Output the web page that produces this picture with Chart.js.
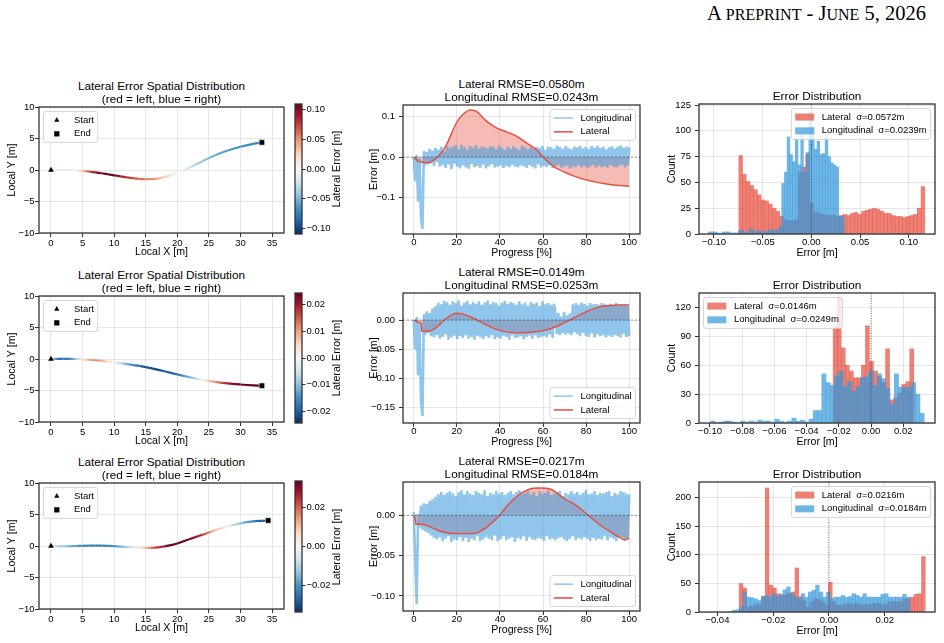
<!DOCTYPE html>
<html>
<head>
<meta charset="utf-8">
<script src="https://cdn.jsdelivr.net/npm/chart.js@4.4.0/dist/chart.umd.min.js"></script>
<style>
  body { margin: 0; background: #fff; width: 944px; height: 643px; overflow: hidden; position: relative;
         font-family: "Liberation Sans", Arial, Helvetica, sans-serif; color: #000; }
  canvas { position: absolute; }
  .t { position: absolute; white-space: nowrap; transform: translate(-50%, -50%); line-height: 1; }
  .hdr { position: absolute; right: 18px; top: 1px; font-family: "Liberation Serif", "Times New Roman", serif;
         font-size: 20.5px; white-space: nowrap; line-height: 24px; }
  .hdr .sc { font-size: 16px; }
</style>
</head>
<body>
<div class="hdr">A <span class="sc">PREPRINT</span> - J<span class="sc">UNE</span> 5, 2026</div>
<script>
// ---------- trajectory (local frame) with lateral error along the path ----------
const trajX1 = [0, 1, 2, 3, 4, 5, 6, 7, 8, 9, 10, 11, 12, 13, 14, 15, 16, 17, 18, 19, 20, 21, 22, 24, 26, 28, 30, 32, 33.4];
const trajY1 = [0, 0, 0, -0.02, -0.06, -0.14, -0.25, -0.38, -0.52, -0.68, -0.84, -1.0, -1.16, -1.3, -1.41, -1.47, -1.45, -1.34, -1.12, -0.82, -0.45, -0.05, 0.4, 1.4, 2.35, 3.1, 3.7, 4.15, 4.38];
const trajE1 = [0, -0.012, -0.014, -0.012, 0.005, 0.03, 0.065, 0.095, 0.11, 0.117, 0.11, 0.093, 0.08, 0.07, 0.064, 0.058, 0.051, 0.04, 0.028, 0.016, 0.0, -0.014, -0.025, -0.043, -0.054, -0.062, -0.067, -0.071, -0.072];

const trajX2 = [0, 1, 2, 3, 4, 5, 6, 7, 8, 9, 10, 11, 12, 13, 14, 16, 18, 20, 22, 24, 26, 28, 30, 32, 33.4];
const trajY2 = [0, 0.03, 0.04, 0.03, 0.0, -0.05, -0.12, -0.2, -0.3, -0.41, -0.53, -0.66, -0.8, -0.95, -1.1, -1.5, -1.95, -2.45, -2.9, -3.3, -3.62, -3.88, -4.05, -4.18, -4.24];
const trajE2 = [0, -0.018, -0.0195, -0.016, -0.008, 0.003, 0.009, 0.0115, 0.009, 0.004, -0.001, -0.007, -0.012, -0.016, -0.019, -0.0218, -0.021, -0.018, -0.011, 0.0, 0.011, 0.02, 0.025, 0.026, 0.026];

const trajX3 = [0, 1, 2, 3, 4, 5, 6, 7, 8, 9, 10, 11, 12, 13, 14, 15, 16, 17, 18, 19, 20, 22, 24, 26, 28, 30, 32, 33.5, 34.4];
const trajY3 = [0, -0.04, -0.05, -0.03, 0.0, 0.03, 0.05, 0.06, 0.05, 0.02, -0.03, -0.09, -0.16, -0.23, -0.29, -0.32, -0.3, -0.22, -0.05, 0.15, 0.4, 1.1, 1.8, 2.5, 3.1, 3.6, 3.9, 4.0, 4.05];
const trajE3 = [0, -0.011, -0.0124, -0.0155, -0.019, -0.0215, -0.0225, -0.0227, -0.0227, -0.0225, -0.02, -0.016, -0.011, -0.005, 0.003, 0.011, 0.019, 0.026, 0.031, 0.0335, 0.0339, 0.033, 0.024, 0.01, -0.002, -0.014, -0.023, -0.029, -0.0285];

const cbMax = [0.1096, 0.0242, 0.0339];
const cbStep = [0.05, 0.01, 0.02];

// ---------- error vs progress ----------
const lonErr1 = [0.000,-0.060,0.005,-0.110,-0.005,-0.150,-0.178,0.015,-0.020,0.012,
  -0.018,0.020,-0.015,0.016,-0.022,0.022,-0.012,0.018,-0.024,0.025,
  -0.020,0.014,-0.027,0.028,-0.018,0.022,-0.030,0.026,-0.016,0.029,
  -0.024,0.019,-0.028,0.030,-0.021,0.024,-0.026,0.018,-0.029,0.027,
  -0.017,0.023,-0.025,0.029,-0.022,0.020,-0.027,0.026,-0.019,0.024,
  -0.028,0.021,-0.023,0.027,-0.018,0.025,-0.026,0.019,-0.024,0.028,
  -0.021,0.023,-0.027,0.017,-0.022,0.026,-0.025,0.020,-0.019,0.027,
  -0.024,0.022,-0.026,0.018,-0.021,0.028,-0.023,0.024,-0.027,0.019,
  -0.020,0.026,-0.024,0.021,-0.028,0.025,-0.018,0.023,-0.026,0.027,
  -0.022,0.018,-0.025,0.026,-0.020,0.024,-0.027,0.021,-0.023,0.028,
  -0.019,0.025,-0.026,0.020,-0.024,0.027,-0.021,0.022,-0.028,0.019,
  -0.023,0.026,-0.025,0.024,-0.020,0.028,-0.026,0.021,-0.022,0.025,
  -0.027,0.020,-0.024,0.027,-0.019,0.023,-0.026,0.028,-0.021,0.022,
  -0.025,0.026,-0.023,0.019,-0.027,0.024,-0.020,0.027,-0.024,0.021,
  -0.026,0.025,-0.022,0.028,-0.019,0.023,-0.025,0.026,-0.021,0.024];
const lonErr2 = [0.000,-0.050,0.005,-0.095,-0.004,-0.140,-0.165,0.010,-0.025,0.015,
  -0.022,0.012,-0.028,0.020,-0.030,0.024,-0.026,0.030,-0.032,0.027,
  -0.029,0.033,-0.025,0.031,-0.034,0.026,-0.030,0.032,-0.027,0.029,
  -0.033,0.034,-0.028,0.025,-0.031,0.030,-0.026,0.033,-0.032,0.027,
  -0.029,0.031,-0.034,0.028,-0.027,0.032,-0.030,0.026,-0.033,0.030,
  -0.028,0.034,-0.031,0.027,-0.026,0.031,-0.033,0.029,-0.030,0.025,
  -0.032,0.030,-0.027,0.033,-0.029,0.028,-0.034,0.031,-0.026,0.029,
  -0.031,0.026,-0.030,0.032,-0.028,0.027,-0.033,0.030,-0.029,0.025,
  -0.027,0.031,-0.032,0.028,-0.026,0.030,-0.031,0.024,-0.029,0.032,
  -0.028,0.027,-0.030,0.029,-0.025,0.026,-0.031,0.028,0.010,-0.024,
  0.012,-0.026,0.006,-0.022,0.014,-0.025,0.008,-0.023,0.011,-0.026,
  0.027,-0.021,0.029,-0.024,0.026,-0.028,0.030,-0.022,0.028,-0.027,
  0.025,-0.029,0.029,-0.023,0.027,-0.030,0.028,-0.025,0.026,-0.028,
  0.029,-0.026,0.027,-0.030,0.025,-0.027,0.028,-0.029,0.024,-0.026,
  0.029,-0.028,0.026,-0.030,0.027,-0.024,0.028,-0.029,0.025,-0.028];
const lonErr3 = [0.004,-0.055,-0.110,0.002,-0.015,0.012,-0.018,0.015,-0.020,0.014,
  -0.022,0.018,-0.025,0.020,-0.028,0.023,-0.030,0.026,-0.027,0.029,
  -0.032,0.025,-0.029,0.028,-0.026,0.030,-0.033,0.027,-0.030,0.024,
  -0.031,0.029,-0.027,0.031,-0.032,0.026,-0.028,0.030,-0.033,0.027,
  -0.029,0.025,-0.031,0.030,-0.026,0.028,-0.032,0.026,-0.030,0.031,
  -0.027,0.024,-0.029,0.028,-0.031,0.026,-0.025,0.030,-0.032,0.027,
  -0.030,0.029,-0.026,0.025,-0.031,0.028,-0.029,0.030,-0.027,0.026,
  -0.033,0.029,-0.028,0.031,-0.030,0.027,-0.026,0.028,-0.032,0.030,
  -0.027,0.026,-0.030,0.029,-0.031,0.024,-0.028,0.030,-0.029,0.027,
  -0.032,0.028,-0.026,0.031,-0.030,0.025,-0.029,0.027,-0.031,0.029,
  -0.028,0.030,-0.027,0.024,-0.030,0.028,-0.032,0.026,-0.029,0.030,
  -0.026,0.027,-0.031,0.029,-0.028,0.025,-0.030,0.028,-0.027,0.031,
  -0.029,0.026,-0.032,0.027,-0.028,0.030,-0.031,0.025,-0.029,0.028,
  -0.030,0.027,-0.026,0.029,-0.031,0.030,-0.027,0.024,-0.029,0.028,
  -0.032,0.026,-0.028,0.030,-0.027,0.029,-0.031,0.027,-0.029,0.026];

const latProg1 = [0, 0.5, 1.5, 2, 3, 5, 7, 8.5, 10.5, 13, 15.2, 17.5, 19.8, 22.9, 26.3, 29.1, 33.7, 38.4, 43, 47.7, 52.3, 57, 60, 64.7, 70.9, 77.1, 83.3, 89.5, 95.7, 100];
const latErr1 = [0, -0.004, -0.008, -0.012, -0.012, -0.014, -0.014, -0.01, -0.0025, 0.012, 0.031, 0.058, 0.085, 0.106, 0.117, 0.113, 0.089, 0.0725, 0.0625, 0.052, 0.035, 0.018, 0.0, -0.023, -0.04, -0.0525, -0.061, -0.067, -0.071, -0.0725];
const latProg2 = [0, 1, 2, 3.5, 3.7, 7.4, 10.5, 15.2, 19.8, 22.1, 27.6, 32.2, 38.4, 44.6, 49.2, 55.4, 61.6, 67.8, 74, 80.2, 86.4, 92.6, 97.2, 100];
const latErr2 = [0, -0.002, -0.004, -0.006, -0.0195, -0.019, -0.0126, 0.003, 0.0115, 0.011, 0.003, -0.0057, -0.016, -0.0213, -0.0218, -0.0207, -0.017, -0.0086, 0.003, 0.0144, 0.023, 0.0253, 0.026, 0.026];
const latProg3 = [0, 0.5, 1, 2.8, 5.9, 9, 12, 16.7, 21.4, 27.6, 30.7, 33.7, 36.8, 39.9, 43, 46.1, 49.2, 52.3, 55.4, 58.5, 61.6, 64.7, 67.8, 70.9, 74, 77.1, 81.7, 86.4, 91, 95.7, 98, 100];
const latErr3 = [0, -0.002, -0.011, -0.011, -0.0124, -0.016, -0.0194, -0.0223, -0.0227, -0.0227, -0.02, -0.0153, -0.0079, 0.0, 0.0107, 0.019, 0.0264, 0.031, 0.0335, 0.0339, 0.0335, 0.031, 0.025, 0.019, 0.0149, 0.0087, -0.0017, -0.012, -0.02, -0.0277, -0.0306, -0.0285];

const latRmse = ['0.0580', '0.0149', '0.0217'];
const lonRmse = ['0.0243', '0.0253', '0.0184'];

// ---------- histograms (bin start, bin width, counts) ----------
const latBinStart = [-0.0745, -0.0235, -0.0322];
const latBinWidth = [0.00382, 0.0025, 0.001334];
const lonBinStart = [-0.1058, -0.0995, -0.0360];
const lonBinWidth = [0.00279, 0.00265, 0.0013];
const latCounts1 = [76,58,51,47,43,38,33,32,29,25,22,17,14,13,13,14,60,65,77,30,22,20,19,18,18,18,17,18,19,18,20,21,19,22,23,24,25,24,22,20,20,18,17,17,16,17,18,19,25,46];
const lonCounts1 = [2,2,2,1,0,2,2,2,1,1,1,3,4,1,2,5,4,2,3,2,3,2,4,4,3,4,7,49,60,94,77,70,92,67,96,60,79,118,104,82,90,77,78,96,75,69,67,65,17,17];
const latCounts2 = [100,130,78,60,54,47,47,60,101,64,54,48,42,77,24,26,31,40,43,77];
const lonCounts2 = [2,0,1,2,2,1,0,2,1,2,1,3,2,2,1,4,2,1,2,5,2,3,1,4,13,13,51,42,39,49,54,38,43,33,38,47,48,54,39,51,46,36,20,51,37,37,37,42,30,10];
const latCounts3 = [50,42,9,10,13,13,27,217,47,42,32,29,30,33,35,77,27,20,9,18,23,22,18,13,52,18,12,12,13,15,13,15,13,13,13,13,15,15,13,13,18,18,18,18,23,23,26,31,32,97];
const lonCounts3 = [1,3,4,9,35,26,25,23,20,27,29,26,32,27,31,39,44,32,27,23,32,26,35,38,47,35,26,35,23,26,26,29,26,27,32,29,26,32,26,26,26,26,31,32,26,26,26,26,31,26];
const latSigma = ['0.0572', '0.0146', '0.0216'];
const lonSigma = ['0.0239', '0.0249', '0.0184'];

// ---------- axis ranges / ticks ----------
const tsYRange = [[-0.191, 0.129], [-0.177, 0.0464], [-0.1186, 0.0413]];
const tsYStep = [0.1, 0.05, 0.05];
const tsYDec = [1, 2, 2];
const histXRange = [[-0.1154, 0.127], [-0.1068, 0.0397], [-0.0466, 0.038]];
const histXStep = [0.05, 0.02, 0.02];
const histYMax = [126, 135, 227.5];
const histYStep = [25, 30, 50];

// ---------- layout (plot rectangles in page pixels) ----------
const layout = [
  { traj: {l: 39, t: 107, r: 284, b: 233}, cb: {l: 295, t: 104, r: 302, b: 234}, ts: {l: 403, t: 105, r: 640, b: 234}, hist: {l: 699, t: 104, r: 935, b: 234} },
  { traj: {l: 39, t: 296, r: 284, b: 422}, cb: {l: 295, t: 293, r: 302, b: 423}, ts: {l: 403, t: 293, r: 640, b: 423}, hist: {l: 699, t: 293, r: 935, b: 423} },
  { traj: {l: 39, t: 483, r: 284, b: 609}, cb: {l: 295, t: 481, r: 302, b: 612}, ts: {l: 403, t: 482, r: 640, b: 611}, hist: {l: 699, t: 482, r: 935, b: 612} }
];

const FONT = '"Liberation Sans", Arial, Helvetica, sans-serif';
Chart.defaults.font.family = FONT;
Chart.defaults.color = '#000';
Chart.defaults.animation = false;
Chart.defaults.plugins.legend.display = false;
Chart.defaults.plugins.tooltip.enabled = false;

const BLUE_LINE = 'rgba(52,152,219,0.55)';
const RED = '#e74c3c';
const RED_HIST = 'rgba(231,76,60,0.7)';
const BLUE_HIST = 'rgba(52,152,219,0.7)';

// RdBu_r colormap
const rdbuR = ['#053061','#2166ac','#4393c3','#92c5de','#d1e5f0','#f7f7f7','#fddbc7','#f4a582','#d6604d','#b2182b','#67001f'];
const rdbuRgb = rdbuR.map(h => [1, 3, 5].map(i => parseInt(h.slice(i, i + 2), 16)));
function cmap(v, vmax) {
  let t = (v + vmax) / (2 * vmax);
  t = Math.max(0, Math.min(1, t));
  const f = t * 10, i = Math.min(9, Math.floor(f)), u = f - i;
  const a = rdbuRgb[i], b = rdbuRgb[i + 1];
  return 'rgb(' + a.map((x, k) => Math.round(x + (b[k] - x) * u)).join(',') + ')';
}

function fmt(v, d) {
  if (Math.abs(v) < 1e-12) return (0).toFixed(d);
  return (v < 0 ? '\u2212' : '') + Math.abs(v).toFixed(d);
}

function makeCanvas(r, m) {
  const c = document.createElement('canvas');
  const w = r.r - r.l + m.l + m.r, h = r.b - r.t + m.t + m.b;
  c.width = w; c.height = h;
  c.style.left = (r.l - m.l) + 'px';
  c.style.top = (r.t - m.t) + 'px';
  c.style.width = w + 'px';
  c.style.height = h + 'px';
  document.body.appendChild(c);
  return c;
}

function text(x, y, s, size, rot) {
  const d = document.createElement('div');
  d.className = 't';
  d.textContent = s;
  d.style.left = x + 'px';
  d.style.top = y + 'px';
  d.style.fontSize = size + 'px';
  if (rot) d.style.transform = 'translate(-50%,-50%) rotate(' + rot + 'deg)';
  document.body.appendChild(d);
}

function axis(o) {
  return {
    type: 'linear', position: o.pos, min: o.min, max: o.max, display: o.display !== false,
    offset: false,
    grid: { color: 'rgba(176,176,176,0.3)', lineWidth: 1, tickLength: o.tl || 4, tickColor: '#333', tickWidth: 1,
            drawOnChartArea: o.grid !== false, offset: false },
    border: { display: false },
    ticks: { stepSize: o.step, includeBounds: false, padding: o.pad, autoSkip: false, maxRotation: 0,
             font: { size: 9.5, lineHeight: 1 }, color: '#000', callback: v => fmt(v, o.dec) },
    title: o.title ? { display: true, text: o.title, color: '#000', font: { size: 10.6 }, padding: o.tpad } : { display: false },
    afterFit: o.fit
  };
}

// frame (all four spines) + matplotlib-like legend drawn inside the axes
function framePlugin(items, loc) {
  return {
    id: 'frameLegend',
    afterDraw(chart) {
      const c = chart.ctx, a = chart.chartArea;
      c.save();
      c.strokeStyle = '#333';
      c.lineWidth = 1.3;
      c.strokeRect(a.left, a.top, a.right - a.left, a.bottom - a.top);
      if (items) {
        const fs = 9.5, pad = 3.8, hl = 19, tp = 7.6, gap = 13.8, bap = 4.5;
        c.font = fs + 'px ' + FONT;
        const tw = Math.max(...items.map(it => c.measureText(it.label).width));
        const w = pad * 2 + hl + tp + tw, h = pad * 2 + fs + gap * (items.length - 1);
        const x = loc.includes('right') ? a.right - bap - w : a.left + bap;
        const y = loc.includes('upper') ? a.top + bap : a.bottom - bap - h;
        c.beginPath();
        c.roundRect(x, y, w, h, 2.5);
        c.fillStyle = 'rgba(255,255,255,0.8)';
        c.fill();
        c.strokeStyle = 'rgba(204,204,204,0.8)';
        c.lineWidth = 1;
        c.stroke();
        items.forEach((it, i) => {
          const cy = y + pad + fs / 2 + i * gap, hx = x + pad, mx = hx + hl / 2;
          if (it.type === 'line') {
            c.strokeStyle = it.color; c.lineWidth = 1.5;
            c.beginPath(); c.moveTo(hx, cy); c.lineTo(hx + hl, cy); c.stroke();
          } else if (it.type === 'patch') {
            c.fillStyle = it.color; c.fillRect(hx, cy - 3.5, hl, 7);
          } else if (it.type === 'triangle') {
            c.fillStyle = '#000'; c.beginPath();
            c.moveTo(mx, cy - 3); c.lineTo(mx + 2.6, cy + 1.6); c.lineTo(mx - 2.6, cy + 1.6); c.closePath(); c.fill();
          } else if (it.type === 'square') {
            c.fillStyle = '#000'; c.fillRect(mx - 2.6, cy - 2.6, 5.2, 5.2);
          }
          c.fillStyle = '#000';
          c.textBaseline = 'middle';
          c.textAlign = 'left';
          c.fillText(it.label, hx + hl + tp, cy);
        });
      }
      c.restore();
    }
  };
}

function refLine(dir, color, dash) {
  return {
    id: 'refLine',
    afterDatasetsDraw(chart) {
      const c = chart.ctx, a = chart.chartArea;
      c.save();
      c.strokeStyle = color; c.lineWidth = 1; c.setLineDash(dash);
      c.beginPath();
      if (dir === 'h') {
        const p = chart.scales.y.getPixelForValue(0);
        c.moveTo(a.left, p); c.lineTo(a.right, p);
      } else {
        const p = chart.scales.x.getPixelForValue(0);
        c.moveTo(p, a.top); c.lineTo(p, a.bottom);
      }
      c.stroke();
      c.restore();
    }
  };
}

function trajChart(k, xs, ys, es) {
  const L = layout[k].traj, m = {l: 39, t: 12, r: 6, b: 26};
  const cv = makeCanvas(L, m);
  const g = cv.getContext('2d');
  const vmax = cbMax[k];
  const pts = xs.map((x, i) => ({x, y: ys[i]}));
  new Chart(cv, {
    type: 'line',
    data: { datasets: [
      { data: pts, borderColor: '#999', borderWidth: 2.2, pointRadius: 0, fill: false, cubicInterpolationMode: 'monotone', order: 3,
        segment: {
          borderColor: s => {
            const gr = g.createLinearGradient(s.p0.x, s.p0.y, s.p1.x, s.p1.y);
            gr.addColorStop(0, cmap(es[s.p0DataIndex], vmax));
            gr.addColorStop(1, cmap(es[s.p1DataIndex], vmax));
            return gr;
          },
          borderDashOffset: s => s.p0DataIndex
        } },
      { data: [pts[0]], showLine: false, pointStyle: 'triangle', pointRadius: 3.3, backgroundColor: '#000', borderColor: '#000', borderWidth: 0, order: 2 },
      { data: [pts[pts.length - 1]], showLine: false, pointStyle: 'rect', pointRadius: 3.8, backgroundColor: '#000', borderColor: '#ddd', borderWidth: 0.6, order: 1 }
    ] },
    options: {
      responsive: false, events: [],
      layout: { padding: { left: 0, top: m.t, right: m.r, bottom: 0 } },
      scales: {
        x: axis({ pos: 'bottom', min: -1.9, max: 36.9, step: 5, dec: 0, pad: 1.25, title: 'Local X [m]',
                  tpad: { top: 0, bottom: 0.6 }, fit: s => { s.height = m.b; } }),
        y: axis({ pos: 'left', min: -10, max: 10, step: 5, dec: 0, pad: 0.5, title: 'Local Y [m]',
                  tpad: { top: 5.6, bottom: 0 }, fit: s => { s.width = m.l; } })
      }
    },
    plugins: [framePlugin([{label: 'Start', type: 'triangle'}, {label: 'End', type: 'square'}], 'upper left')]
  });
  const cx = (L.l + L.r) / 2;
  text(cx, L.t - 20, 'Lateral Error Spatial Distribution', 11.8);
  text(cx, L.t - 7, '(red = left, blue = right)', 11.8);
}

function colorbarChart(k) {
  const L = layout[k].cb, m = {l: 5, t: 10, r: 40, b: 10};
  const cv = makeCanvas(L, m);
  const vmax = cbMax[k];
  new Chart(cv, {
    type: 'bar',
    data: { labels: [''], datasets: [{
      data: [[-vmax, vmax]], borderWidth: 0, barPercentage: 1, categoryPercentage: 1,
      backgroundColor: c => {
        const a = c.chart.chartArea;
        if (!a) return '#fff';
        const gr = c.chart.ctx.createLinearGradient(0, a.bottom, 0, a.top);
        rdbuR.forEach((col, i) => gr.addColorStop(i / 10, col));
        return gr;
      }
    }] },
    options: {
      responsive: false, events: [],
      layout: { padding: { left: m.l, top: m.t, right: 0, bottom: m.b } },
      scales: {
        x: { display: false },
        y: axis({ pos: 'right', min: -vmax, max: vmax, step: cbStep[k], dec: 2, pad: 1, tl: 3.5, grid: false,
                  fit: s => { s.width = m.r; } })
      }
    },
    plugins: [framePlugin(null, '')]
  });
  text(336, (L.t + L.b) / 2, 'Lateral Error [m]', 10.6, -90);
}

function tsChart(k, lon, latP, latV) {
  const L = layout[k].ts, m = {l: 45, t: 12, r: 8, b: 26};
  const cv = makeCanvas(L, m);
  const n = lon.length;
  const lonPts = lon.map((v, i) => ({x: i * 100 / (n - 1), y: v}));
  const latPts = latP.map((p, i) => ({x: p, y: latV[i]}));
  new Chart(cv, {
    type: 'line',
    data: { datasets: [
      { label: 'Longitudinal', data: lonPts, borderColor: BLUE_LINE, borderWidth: 2.6, borderJoinStyle: 'bevel',
        pointRadius: 0, fill: false, order: 2 },
      { label: 'Lateral', data: latPts, borderColor: RED, borderWidth: 1.4, pointRadius: 0, cubicInterpolationMode: 'monotone',
        fill: 'origin', backgroundColor: 'rgba(231,76,60,0.38)', order: 1 }
    ] },
    options: {
      responsive: false, events: [],
      layout: { padding: { left: 0, top: m.t, right: m.r, bottom: 0 } },
      plugins: { filler: { drawTime: 'beforeDatasetsDraw' } },
      scales: {
        x: axis({ pos: 'bottom', min: -5, max: 105, step: 20, dec: 0, pad: 0, title: 'Progress [%]',
                  tpad: { top: 0, bottom: 0.3 }, fit: s => { s.height = m.b; } }),
        y: axis({ pos: 'left', min: tsYRange[k][0], max: tsYRange[k][1], step: tsYStep[k], dec: tsYDec[k], pad: 4,
                  title: 'Error [m]', tpad: { top: 9.3, bottom: 0 }, fit: s => { s.width = m.l; } })
      }
    },
    plugins: [refLine('h', 'rgba(0,0,0,0.4)', [2, 2]),
              framePlugin([{label: 'Longitudinal', type: 'line', color: BLUE_LINE}, {label: 'Lateral', type: 'line', color: RED}],
                          k === 0 ? 'upper right' : 'lower right')]
  });
  const cx = (L.l + L.r) / 2;
  text(cx, L.t - 20, 'Lateral RMSE=' + latRmse[k] + 'm', 11.8);
  text(cx, L.t - 7, 'Longitudinal RMSE=' + lonRmse[k] + 'm', 11.8);
}

function histChart(k, latC, lonC) {
  const L = layout[k].hist, m = {l: 45, t: 12, r: 8, b: 26};
  const cv = makeCanvas(L, m);
  const bins = (s, w, cs) => cs.map((c, i) => ({x: s + (i + 0.5) * w, y: c}));
  const xr = histXRange[k];
  new Chart(cv, {
    type: 'bar',
    data: { datasets: [
      { label: 'Lateral', data: bins(latBinStart[k], latBinWidth[k], latC), backgroundColor: RED_HIST, borderWidth: 0,
        xAxisID: 'x', grouped: false, barPercentage: 1, categoryPercentage: 1, order: 2 },
      { label: 'Longitudinal', data: bins(lonBinStart[k], lonBinWidth[k], lonC), backgroundColor: BLUE_HIST, borderWidth: 0,
        xAxisID: 'x2', grouped: false, barPercentage: 1, categoryPercentage: 1, order: 1 }
    ] },
    options: {
      responsive: false, events: [],
      layout: { padding: { left: 0, top: m.t, right: m.r, bottom: 0 } },
      scales: {
        x: axis({ pos: 'bottom', min: xr[0], max: xr[1], step: histXStep[k], dec: 2, pad: 0, title: 'Error [m]',
                  tpad: { top: 0, bottom: 0.3 }, fit: s => { s.height = m.b; } }),
        x2: axis({ pos: 'bottom', min: xr[0], max: xr[1], step: histXStep[k], dec: 2, display: false, grid: false }),
        y: axis({ pos: 'left', min: 0, max: histYMax[k], step: histYStep[k], dec: 0, pad: 4, title: 'Count',
                  tpad: { top: 11.3, bottom: 0 }, fit: s => { s.width = m.l; } })
      }
    },
    plugins: [refLine('v', 'rgba(0,0,0,0.5)', [1, 1.5]),
              framePlugin([{label: 'Lateral  \u03c3=' + latSigma[k] + 'm', type: 'patch', color: RED_HIST},
                           {label: 'Longitudinal  \u03c3=' + lonSigma[k] + 'm', type: 'patch', color: BLUE_HIST}],
                          k === 1 ? 'upper left' : 'upper right')]
  });
  text((L.l + L.r) / 2, L.t - 7, 'Error Distribution', 11.8);
}

trajChart(0, trajX1, trajY1, trajE1);
trajChart(1, trajX2, trajY2, trajE2);
trajChart(2, trajX3, trajY3, trajE3);
colorbarChart(0); colorbarChart(1); colorbarChart(2);
tsChart(0, lonErr1, latProg1, latErr1);
tsChart(1, lonErr2, latProg2, latErr2);
tsChart(2, lonErr3, latProg3, latErr3);
histChart(0, latCounts1, lonCounts1);
histChart(1, latCounts2, lonCounts2);
histChart(2, latCounts3, lonCounts3);
</script>
</body>
</html>
